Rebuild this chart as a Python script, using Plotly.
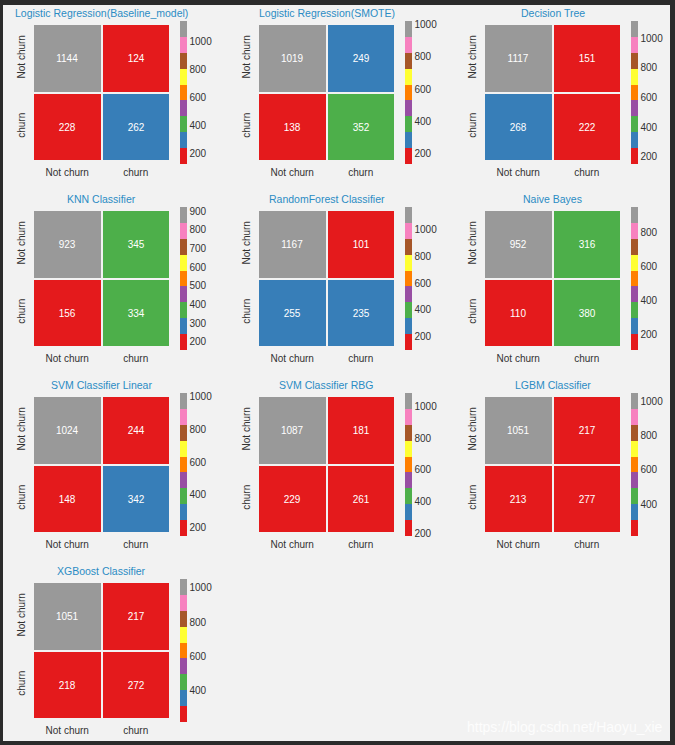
import plotly.graph_objects as go

# 모델별 혼동행렬 값
titles = [
    "Logistic Regression(Baseline_model)", "Logistic Regression(SMOTE)", "Decision Tree",
    "KNN Classifier", "RandomForest Classifier", "Naive Bayes",
    "SVM Classifier Linear", "SVM Classifier RBG", "LGBM Classifier",
    "XGBoost Classifier",
]
tn = [1144, 1019, 1117, 923, 1167, 952, 1024, 1087, 1051, 1051]
fp = [124, 249, 151, 345, 101, 316, 244, 181, 217, 217]
fn = [228, 138, 268, 156, 255, 110, 148, 229, 213, 218]
tp = [262, 352, 222, 334, 235, 380, 342, 261, 277, 272]
cbar_dtick = [200, 200, 200, 100, 200, 200, 200, 200, 200, 200]
labels = ["Not churn", "churn"]

W, H = 675, 745
set1 = ["#e41a1c", "#377eb8", "#4daf4a", "#984ea3", "#ff7f00",
        "#ffff33", "#a65628", "#f781bf", "#999999"]
cscale = []
for i, c in enumerate(set1):
    cscale.append([i / 9, c])
    cscale.append([(i + 1) / 9, c])

col_left = [33, 258, 484]
row_top = [24, 210, 396, 582]
size = 137

fig = go.Figure()
layout = {}
annotations = []
for k, name in enumerate(titles):
    r, c = divmod(k, 3)
    x0, y0 = col_left[c], row_top[r]
    ax = "" if k == 0 else str(k + 1)
    fig.add_trace(go.Heatmap(
        z=[[tn[k], fp[k]], [fn[k], tp[k]]],
        x=labels, y=labels,
        colorscale=cscale,
        xgap=2, ygap=2,
        texttemplate="%{z}",
        textfont=dict(color="white", size=10),
        xaxis="x" + ax, yaxis="y" + ax,
        hoverinfo="skip",
        colorbar=dict(
            x=(x0 + size + 10) / W, xanchor="left",
            y=1 - (y0 + size / 2) / H, yanchor="middle",
            lenmode="pixels", len=143, thickness=7,
            outlinewidth=0, xpad=0, ypad=0,
            tick0=0, dtick=cbar_dtick[k], ticks="",
            tickfont=dict(size=10, color="#333333"),
        ),
    ))
    layout["xaxis" + ax] = dict(
        domain=[x0 / W, (x0 + size) / W], anchor="y" + ax,
        showgrid=False, zeroline=False, ticks="", ticklabelstandoff=4,
        tickfont=dict(size=10, color="#333333"),
    )
    layout["yaxis" + ax] = dict(
        domain=[1 - (y0 + size) / H, 1 - y0 / H], anchor="x" + ax,
        autorange="reversed", showgrid=False, zeroline=False, ticks="",
        ticklabelstandoff=5,
        tickangle=-90, tickfont=dict(size=10, color="#333333"),
    )
    annotations.append(dict(
        text=name, x=(x0 + size / 2) / W, y=1 - (y0 - 3) / H,
        xref="paper", yref="paper", xanchor="center", yanchor="bottom",
        showarrow=False, font=dict(size=10.5, color="#2b8cc4"),
    ))

# 워터마크
annotations.append(dict(
    text="https://blog.csdn.net/Haoyu_xie", x=665 / W, y=1 - 727 / H,
    xref="paper", yref="paper", xanchor="right", yanchor="middle",
    showarrow=False, font=dict(size=14, color="#fdfdfd"),
))

fig.update_layout(
    **layout,
    width=W, height=H,
    margin=dict(l=0, r=0, t=0, b=0),
    paper_bgcolor="#2b2b2b", plot_bgcolor="white",
    font=dict(family="Liberation Sans, Arial, sans-serif"),
    annotations=annotations,
    shapes=[dict(type="rect", xref="paper", yref="paper",
                 x0=3 / W, x1=670 / W, y0=1 - 741 / H, y1=1 - 5 / H,
                 fillcolor="#f2f2f2", line=dict(width=0), layer="below")],
)
fig.write_html("out.html", config={"displayModeBar": False},
               post_script="document.body.style.margin='0px';")
